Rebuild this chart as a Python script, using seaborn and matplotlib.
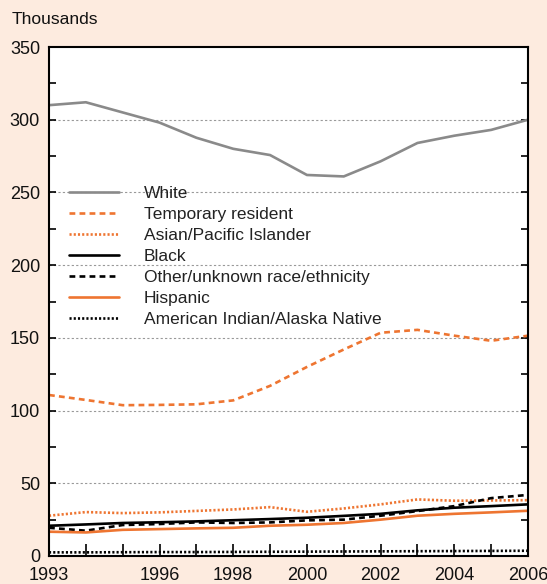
import matplotlib
matplotlib.use("Agg")
import matplotlib.pyplot as plt
import seaborn as sns
import pandas as pd

years = list(range(1993, 2007))
white = [310, 312, 305, 298, 287.6, 280, 275.7, 262, 261, 271.4, 284, 289, 293, 300]
temporary = [110.7, 107.3, 103.7, 103.9, 104.3, 107, 117, 130, 142, 153.5, 155.5, 151.5, 148, 151.5]
asian = [27.7, 30.2, 29.5, 30, 31, 32, 33.6, 30.4, 32.7, 35.5, 38.9, 38, 38.2, 38.4]
black = [20.8, 21.7, 22.7, 23.2, 23.8, 24.6, 25.4, 26.3, 27.6, 29, 31.4, 33.2, 34.3, 35.5]
other = [19.4, 17.4, 21.3, 22, 23.1, 22.7, 23.1, 24.5, 25, 27.7, 30.9, 34.3, 39.8, 42]
hispanic = [16.7, 16.2, 18, 18.5, 19, 19.4, 20.8, 21.5, 22.7, 25, 27.7, 29, 30, 31.1]
amindian = [2.5, 2.5, 2.6, 2.7, 2.7, 2.8, 2.9, 3.0, 3.1, 3.2, 3.3, 3.4, 3.5, 3.6]

series_names = ["White", "Temporary resident", "Asian/Pacific Islander", "Black",
                "Other/unknown race/ethnicity", "Hispanic", "American Indian/Alaska Native"]
series_vals = [white, temporary, asian, black, other, hispanic, amindian]

xtick_labels = ["1993", "", "", "1996", "", "1998", "", "2000", "", "2002", "", "2004", "", "2006"]
yticks = [0, 50, 100, 150, 200, 250, 300, 350]

sns.set_theme(style="white")
plt.rcParams['font.family'] = ['Liberation Sans', 'DejaVu Sans']

bg = "#FDEBDF"
orange = "#EE7531"
gray = "#8A8A8A"
styles = [
    dict(color=gray, dashes=None),
    dict(color=orange, dashes=(2.2, 1.6)),
    dict(color=orange, dashes=(0.8, 0.8)),
    dict(color="black", dashes=None),
    dict(color="black", dashes=(2.2, 1.6)),
    dict(color=orange, dashes=None),
    dict(color="black", dashes=(0.8, 0.8)),
]

fig = plt.figure(figsize=(5.47, 5.84), dpi=100, facecolor=bg)
ax = fig.add_axes([49/547, 28/584, 479/547, 509/584])
ax.set_facecolor("white")

for name, vals, st in zip(series_names, series_vals, styles):
    df = pd.DataFrame({"year": years, "value": vals})
    sns.lineplot(data=df, x="year", y="value", ax=ax, color=st["color"],
                 linewidth=1.9, label=name)
    l = ax.get_lines()[-1]
    if st["dashes"] is not None:
        l.set_dashes(st["dashes"])

ax.set_xlim(1993, 2006)
ax.set_ylim(0, 350)
ax.set_xticks(years)
ax.set_xticklabels(xtick_labels, fontsize=13)
ax.set_yticks(yticks)
ax.set_yticklabels([str(v) for v in yticks], fontsize=13)
ax.set_yticks([25, 75, 125, 175, 225, 275, 325], minor=True)
ax.tick_params(axis="x", which="major", direction="in", length=9, width=1.2,
               bottom=True, top=False, pad=8, colors="black", labelcolor="#111111")
ax.tick_params(axis="y", which="both", direction="in", length=5, width=1.2,
               left=True, right=True, pad=6.5, colors="black", labelcolor="#111111")
ax.set_xlabel("")
ax.set_ylabel("")

for v in [50, 100, 150, 200, 250, 300]:
    ax.axhline(v, color="#999999", linewidth=0.8, linestyle=(0, (2, 2)), zorder=0)

for s in ax.spines.values():
    s.set_visible(True)
    s.set_color("black")
    s.set_linewidth(1.5)

leg = ax.legend(loc="upper left", bbox_to_anchor=(0.009, 0.758), frameon=False,
                fontsize=12.5, handlelength=2.9, handletextpad=1.4, labelspacing=0.34)
for t in leg.get_texts():
    t.set_color("#222222")

fig.text(12/547, 1 - 19/584, "Thousands", fontsize=12.5, color="#111111", va="center", ha="left")

fig.savefig("out.png", dpi=100, facecolor=bg)
